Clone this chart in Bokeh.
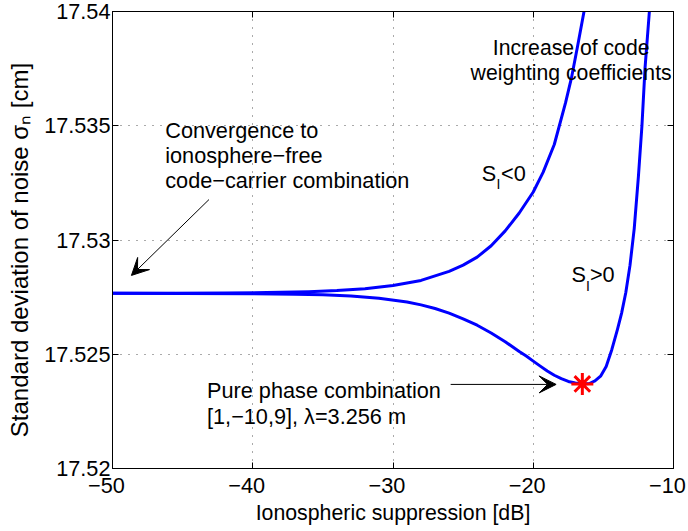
from bokeh.plotting import figure
from bokeh.models import (FixedTicker, LinearAxis, Arrow, VeeHead, Range1d,
                          CustomLabelingPolicy)
from bokeh.embed import file_html
from bokeh.resources import INLINE
from bokeh.core.properties import value

# ---- data ----
upper_x = [-50, -46, -42, -39, -36, -34, -32, -30, -28, -26, -25, -24, -23, -22,
           -21, -20, -19.3, -18.5, -17.7, -17.28, -16.85, -16.38]
upper_y = [17.52767, 17.52767, 17.52768, 17.52770, 17.52774, 17.52779, 17.52787,
           17.52801, 17.52823, 17.52863, 17.52890, 17.52925, 17.52975, 17.53040,
           17.53118, 17.53210, 17.53296, 17.53418, 17.53600, 17.53708, 17.53845,
           17.54000]

lower_x = [-50, -45, -40, -37, -35, -33, -31, -29, -28, -27, -26, -25, -24, -23,
           -22, -21, -20.5, -20, -19.5, -19, -18.5, -18, -17.5, -17, -16.5, -16,
           -15.6, -15.2, -14.8, -14.4, -14.0, -13.7, -13.4, -13.1, -12.8, -12.5,
           -12.25, -12.03, -11.72]
lower_y = [17.52767, 17.52766, 17.52765, 17.52763, 17.52760, 17.52755, 17.52745,
           17.52729, 17.52716, 17.52700, 17.52680, 17.52655, 17.52627, 17.52593,
           17.52555, 17.52512, 17.52492, 17.52470, 17.52448, 17.52427, 17.52408,
           17.52393, 17.52381, 17.52374, 17.52370, 17.52372, 17.52383, 17.52404,
           17.52446, 17.52520, 17.52608, 17.52680, 17.52770, 17.52890, 17.53050,
           17.53280, 17.53500, 17.53752, 17.54000]

opt_x = [-16.5]
opt_y = [17.5237]

x_ticks = [-50, -40, -30, -20, -10]
x_tick_labels = ["\u221250", "\u221240", "\u221230", "\u221220", "\u221210"]
y_ticks = [17.52, 17.525, 17.53, 17.535, 17.54]
y_tick_labels = ["17.52", "17.525", "17.53", "17.535", "17.54"]

FONT = "Liberation Sans"
FS = "21.7px"
PAD = "\u00a0\u00a0"  # trailing no-break spaces: nudge centred tick labels left

p = figure(frame_width=561, frame_height=457,
           x_range=Range1d(-50, -10), y_range=Range1d(17.52, 17.54),
           output_backend="svg", toolbar_location=None,
           min_border_left=112, min_border_top=8, min_border_bottom=50,
           min_border_right=8,
           background_fill_color="white", border_fill_color="white",
           outline_line_color="black", outline_line_width=1,
           x_axis_label="Ionospheric suppression [dB]",
           y_axis_label="Standard deviation of noise \u03c3\u2099 [cm]\u00a0\u00a0\u00a0")

# axes
for ax, ticks, labels, pad in ((p.xaxis[0], x_ticks, x_tick_labels, PAD),
                               (p.yaxis[0], y_ticks, y_tick_labels, "")):
    ax.ticker = FixedTicker(ticks=ticks)
    ax.major_label_overrides = {t: l + pad for t, l in zip(ticks, labels)}
    ax.major_label_text_font = FONT
    ax.major_label_text_font_size = FS
    ax.major_label_text_color = "black"
    ax.axis_label_text_font = FONT
    ax.axis_label_text_font_style = "normal"
    ax.axis_label_text_color = "black"
    ax.major_tick_in = 6
    ax.major_tick_out = 0
    ax.minor_tick_line_color = None
    ax.axis_line_color = "black"
    ax.major_tick_line_color = "black"

p.xaxis[0].major_label_standoff = 4
p.xaxis[0].axis_label_text_font_size = "21.3px"
p.xaxis[0].axis_label_standoff = 0
p.yaxis[0].major_label_standoff = 2
p.yaxis[0].axis_label_text_font_size = "24px"
p.yaxis[0].axis_label_standoff = 8

no_labels = CustomLabelingPolicy(code="yield* []")
for loc, ticks in (("above", x_ticks), ("right", y_ticks)):
    ax = LinearAxis(ticker=FixedTicker(ticks=ticks),
                    major_label_policy=no_labels, major_label_standoff=0,
                    major_tick_in=6, major_tick_out=0,
                    minor_tick_line_color=None, axis_line_color="black",
                    major_tick_line_color="black")
    p.add_layout(ax, loc)

# grid
p.xgrid.ticker = FixedTicker(ticks=x_ticks)
p.ygrid.ticker = FixedTicker(ticks=y_ticks)
for g in (p.xgrid[0], p.ygrid[0]):
    g.grid_line_color = "#555555"
    g.grid_line_dash = "1 7"
    g.grid_line_width = 1

# curves
p.line(upper_x, upper_y, line_color="#0000ff", line_width=3, line_join="round")
p.line(lower_x, lower_y, line_color="#0000ff", line_width=3, line_join="round")
p.scatter(opt_x, opt_y, marker="asterisk", size=22, line_color="#ff0000",
          line_width=3)

# arrows
p.add_layout(Arrow(end=VeeHead(size=17, fill_color="black", line_color="black"),
                   x_start=-43.12, y_start=17.53177, x_end=-48.65, y_end=17.52845,
                   line_color="black", line_width=1))
p.add_layout(Arrow(end=VeeHead(size=17, fill_color="black", line_color="black"),
                   x_start=-25.89, y_start=17.52368, x_end=-18.37, y_end=17.52368,
                   line_color="black", line_width=1))

# annotation texts
txt = dict(text_font=value(FONT), text_font_size=FS, text_color="black",
           text_baseline="alphabetic")
p.text(x=[-46.24, -46.24, -46.24, -43.26, -43.26],
       y=[17.53479, 17.53370, 17.53260, 17.52341, 17.52228],
       text=["Convergence to", "ionosphere\u2212free",
             "code\u2212carrier combination", "Pure phase combination",
             "[1,\u221210,9], \u03bb=3.256 m"],
       text_align="left", **txt)
p.text(x=[-17.3, -17.3], y=[17.53842, 17.53734],
       text=["Increase of code", "weighting coefficients"],
       text_align="center", text_font=value(FONT), text_font_size="21.2px",
       text_color="black", text_baseline="alphabetic")
# S_I<0 and S_I>0
p.text(x=[-23.67, -22.30, -17.28, -15.96], y=[17.53291, 17.53291, 17.52849, 17.52849],
       text=["S", "<0", "S", ">0"], text_align="left", **txt)
p.text(x=[-22.62, -16.24], y=[17.53247, 17.52797], text=["I", "I"],
       text_align="left", text_font=value(FONT), text_font_size="14px",
       text_color="black", text_baseline="alphabetic")

open("out.html", "w").write(file_html(p, INLINE))
